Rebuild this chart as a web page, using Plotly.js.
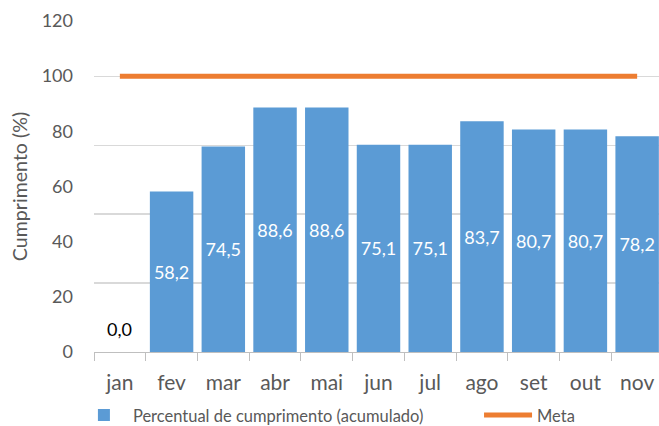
<!DOCTYPE html>
<html><head><meta charset="utf-8">
<script src="https://cdn.plot.ly/plotly-3.0.1.min.js"></script>
<style>html,body{margin:0;background:#fff;overflow:hidden}#c{width:663px;height:426px}</style>
</head><body><div id="c"></div>
<script>
const months = ['jan','fev','mar','abr','mai','jun','jul','ago','set','out','nov'];
const cumprimento = [0.0, 58.2, 74.5, 88.6, 88.6, 75.1, 75.1, 83.7, 80.7, 80.7, 78.2];
const meta = [100,100,100,100,100,100,100,100,100,100,100];
const yTicks = [0,20,40,60,80,100,120];
const gridVals = [25,50,75,100];

const fmt = v => v.toFixed(1).replace('.', ',');
const FONT = 'Lato, "Open Sans", sans-serif';

const data = [
  {type:'bar', x:months, y:cumprimento, yaxis:'y2',
   name:'Percentual de cumprimento (acumulado)' + '\u00a0'.repeat(12),
   marker:{color:'#5B9BD5'}, hoverinfo:'skip',
   text: cumprimento.map(fmt),
   textposition: cumprimento.map(v => v > 0 ? 'inside' : 'none'),
   insidetextanchor:'middle', textangle:0, constraintext:'none',
   insidetextfont:{family:FONT, size:18, color:'#ffffff'}},
  {type:'scatter', mode:'lines', x:months, y:meta, yaxis:'y', name:'Meta',
   line:{color:'#ED7D31', width:5}, hoverinfo:'skip'}
];

const zeroLabels = months.map((m,i)=>({m, v:cumprimento[i]})).filter(d => d.v <= 0).map(d => ({
  x:d.m, y:d.v, xref:'x', yref:'y2', yanchor:'bottom', yshift:10, showarrow:false,
  text:fmt(d.v), font:{family:FONT, size:18, color:'#000000'}
}));

const layout = {
  width:663, height:426,
  margin:{l:94, r:0, t:21, b:74},
  paper_bgcolor:'#fff', plot_bgcolor:'#fff',
  bargap:0.16,
  font:{family:FONT, color:'#595959'},
  xaxis:{type:'category', showline:true, linecolor:'#bfbfbf', linewidth:1,
    ticks:'outside', tickson:'boundaries', ticklen:8, tickcolor:'#bfbfbf',
    ticklabelstandoff:12,
    tickfont:{size:21, color:'#595959'}, showgrid:false, fixedrange:true},
  yaxis:{range:[0,120], tickvals:gridVals, showticklabels:false, ticks:'',
    showgrid:true, gridcolor:'#d9d9d9', gridwidth:1.2, zeroline:false, showline:false},
  yaxis2:{overlaying:'y', side:'left', anchor:'x', range:[0,120], tickvals:yTicks,
    ticktext:yTicks.map(String), showgrid:false, zeroline:false, showline:false,
    ticks:'', ticklabelstandoff:20,
    tickfont:{size:18, color:'#595959'},
    title:{text:'Cumprimento (%)', font:{size:19.6, color:'#595959'}, standoff:8}},
  showlegend:true,
  legend:{orientation:'h', xref:'container', yref:'container', x:0.113, y:0.025,
    xanchor:'left', yanchor:'middle', itemwidth:48,
    font:{size:16.5, color:'#595959'}},
  annotations: zeroLabels
};

Plotly.newPlot('c', data, layout, {displayModeBar:false, staticPlot:true});
</script></body></html>
